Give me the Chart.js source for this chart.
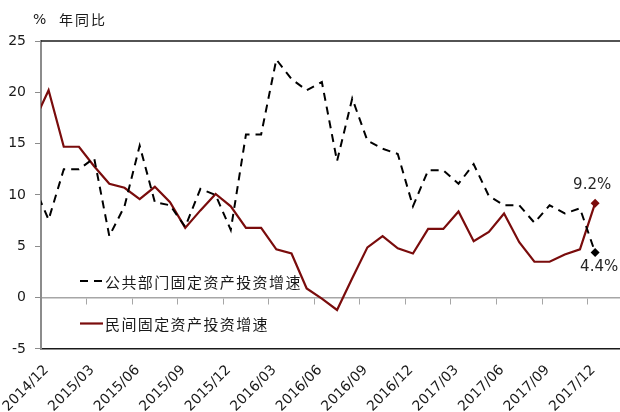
<!DOCTYPE html>
<html>
<head>
<meta charset="utf-8">
<script src="https://cdn.jsdelivr.net/npm/chart.js@4.4.1/dist/chart.umd.min.js"></script>
<style>
  html, body { margin: 0; padding: 0; background: #fff; overflow: hidden; }
  #wrap { width: 630px; height: 431px; }
</style>
</head>
<body>
<div id="wrap"><canvas id="chart"></canvas></div>
<script>
const months = [
  '2014/11', '2014/12',
  '2015/01', '2015/02', '2015/03', '2015/04', '2015/05', '2015/06',
  '2015/07', '2015/08', '2015/09', '2015/10', '2015/11', '2015/12',
  '2016/01', '2016/02', '2016/03', '2016/04', '2016/05', '2016/06',
  '2016/07', '2016/08', '2016/09', '2016/10', '2016/11', '2016/12',
  '2017/01', '2017/02', '2017/03', '2017/04', '2017/05', '2017/06',
  '2017/07', '2017/08', '2017/09', '2017/10', '2017/11', '2017/12',
];

// 公共部门固定资产投资增速, % yoy
const publicGrowth = [
  11.0, 7.6,
  12.5, 12.5, 13.6, 6.0, 8.9, 14.8, 9.3, 9.0, 6.9, 10.6, 10.0, 6.6,
  15.9, 15.9, 23.2, 21.3, 20.2, 21.0, 13.3, 19.4, 15.3, 14.5, 14.0, 8.9,
  12.4, 12.4, 11.1, 13.0, 9.9, 9.0, 9.0, 7.3, 9.0, 8.2, 8.7, 4.4,
];

// 民间固定资产投资增速, % yoy
const privateGrowth = [
  17.0, 20.2,
  14.7, 14.7, 12.8, 11.1, 10.7, 9.6, 10.8, 9.3, 6.8, 8.5, 10.1, 8.9,
  6.8, 6.8, 4.7, 4.3, 0.9, -0.1, -1.2, 1.9, 4.9, 6.0, 4.8, 4.3,
  6.7, 6.7, 8.4, 5.5, 6.4, 8.2, 5.4, 3.5, 3.5, 4.2, 4.7, 9.2,
];

const tickLabels = [
  '2014/12', '2015/03', '2015/06', '2015/09', '2015/12', '2016/03', '2016/06',
  '2016/09', '2016/12', '2017/03', '2017/06', '2017/09', '2017/12',
];
const yTicks = [-5, 0, 5, 10, 15, 20, 25];

const unitText = '%';
const titleText = '年同比';

const firstShown = months.indexOf(tickLabels[0]);
const toPoints = (arr) => arr.map((v, i) => ({ x: i - firstShown, y: v }));
const lastDot = (ctx) => (ctx.dataIndex === ctx.dataset.data.length - 1 ? 4.5 : 0);

const textColor = '#1a1a1a';
const latin = '"DejaVu Sans", sans-serif';
const cjk = '"Noto Sans CJK SC", sans-serif';

// legend rows and end labels (offsets in px)
const legendRows = [
  { dataset: 0, dy: 240 },
  { dataset: 1, dy: 282.5 },
];
const endLabels = [
  { dataset: 0, dx: 4, dy: 15 },
  { dataset: 1, dx: -3, dy: -18 },
];

const decor = {
  id: 'decor',
  afterDraw(chart) {
    const { ctx, chartArea: a } = chart;
    ctx.save();

    // top frame line
    ctx.strokeStyle = textColor;
    ctx.lineWidth = 1.6;
    ctx.beginPath();
    ctx.moveTo(a.left, a.top);
    ctx.lineTo(a.right, a.top);
    ctx.stroke();

    // unit + title
    ctx.fillStyle = textColor;
    ctx.textBaseline = 'middle';
    ctx.textAlign = 'left';
    ctx.font = '14px ' + latin;
    ctx.fillText(unitText, a.left - 8, a.top - 21);
    ctx.font = '14px ' + cjk;
    ctx.letterSpacing = '2px';
    ctx.fillText(titleText, a.left + 18, a.top - 21);

    // legend inside the plot
    ctx.font = '15px ' + cjk;
    ctx.letterSpacing = '1.4px';
    legendRows.forEach((row) => {
      const ds = chart.data.datasets[row.dataset];
      const y = a.top + row.dy;
      ctx.strokeStyle = ds.borderColor;
      ctx.lineWidth = ds.borderWidth;
      ctx.setLineDash(ds.borderDash || []);
      ctx.beginPath();
      ctx.moveTo(a.left + 39, y);
      ctx.lineTo(a.left + 62, y);
      ctx.stroke();
      ctx.setLineDash([]);
      ctx.fillText(ds.label, a.left + 64, y + 1);
    });

    // value labels on the last points
    ctx.letterSpacing = '0px';
    ctx.font = '15px ' + latin;
    ctx.fillStyle = '#262626';
    ctx.textAlign = 'center';
    endLabels.forEach((l) => {
      const ds = chart.data.datasets[l.dataset];
      const pts = chart.getDatasetMeta(l.dataset).data;
      const p = pts[pts.length - 1];
      const v = ds.data[ds.data.length - 1].y;
      ctx.fillText(v.toFixed(1) + '%', p.x + l.dx, p.y + l.dy);
    });

    ctx.restore();
  },
};

const xMin = -0.5;
const xMax = 38;

const myChart = new Chart('chart', {
  type: 'line',
  data: {
    datasets: [
      {
        label: '公共部门固定资产投资增速',
        data: toPoints(publicGrowth),
        borderColor: '#000000',
        backgroundColor: '#000000',
        borderWidth: 2,
        borderDash: [8, 6],
        pointStyle: 'rectRot',
        pointRadius: lastDot,
        pointBorderWidth: 0,
        tension: 0,
      },
      {
        label: '民间固定资产投资增速',
        data: toPoints(privateGrowth),
        borderColor: '#7a0c0c',
        backgroundColor: '#7a0c0c',
        borderWidth: 2.2,
        pointStyle: 'rectRot',
        pointRadius: lastDot,
        pointBorderWidth: 0,
        tension: 0,
      },
    ],
  },
  options: {
    responsive: true,
    maintainAspectRatio: false,
    animation: false,
    layout: { padding: { left: 8, top: 41, right: 0, bottom: 3 } },
    plugins: {
      legend: { display: false },
      tooltip: { enabled: false },
    },
    scales: {
      x: {
        type: 'linear',
        min: xMin,
        max: xMax,
        afterBuildTicks: (s) => {
          s.ticks = tickLabels.map((l) => ({ value: months.indexOf(l) - firstShown }));
        },
        afterFit: (s) => {
          s.paddingLeft = 0;
        },
        ticks: {
          autoSkip: false,
          minRotation: 45,
          maxRotation: 45,
          padding: 13,
          labelOffset: -2,
          color: textColor,
          font: { family: latin, size: 14 },
          callback: (v) => months[v + firstShown],
        },
        grid: { display: false, drawTicks: false },
        border: { display: true, color: textColor, width: 1.6 },
      },
      xZero: {
        type: 'linear',
        min: xMin,
        max: xMax,
        position: { y: 0 },
        afterBuildTicks: (s) => {
          s.ticks = tickLabels.map((l) => ({ value: months.indexOf(l) - firstShown - 0.5 }));
        },
        ticks: { display: false },
        grid: { drawOnChartArea: false, drawTicks: true, tickLength: 6, color: '#a6a6a6', lineWidth: 1 },
        border: { display: true, color: '#a6a6a6', width: 1.5 },
      },
      y: {
        min: yTicks[0],
        max: yTicks[yTicks.length - 1],
        afterFit: (s) => {
          s.width = 33;
        },
        ticks: {
          stepSize: yTicks[1] - yTicks[0],
          padding: 9,
          color: textColor,
          font: { family: latin, size: 14 },
        },
        grid: { drawOnChartArea: false, drawTicks: true, tickLength: 6, color: '#8c8c8c' },
        border: { display: true, color: '#8c8c8c', width: 2 },
      },
    },
  },
  plugins: [decor],
});
</script>
</body>
</html>
